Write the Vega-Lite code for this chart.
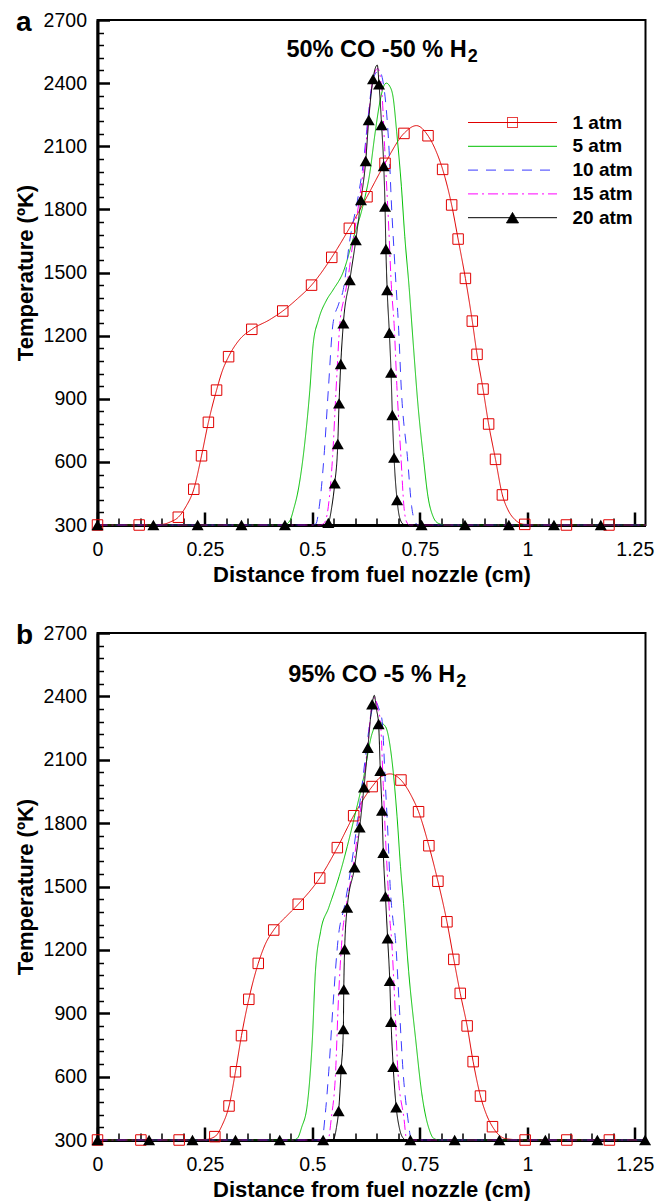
{
  "$schema": "https://vega.github.io/schema/vega-lite/v6.json",
  "padding": {"left": 12.5, "top": 8, "right": 5, "bottom": 5},
  "spacing": 34,
  "config": {
    "font": "Liberation Sans",
    "view": {"stroke": "black", "strokeWidth": 2},
    "axis": {
      "grid": false, "domainColor": "black", "domainWidth": 3, "tickColor": "black",
      "labelFont": "Liberation Sans", "labelFontSize": 19.5, "labelColor": "black",
      "titleFont": "Liberation Sans", "titleFontSize": 22, "titleFontWeight": "bold", "titleColor": "black",
      "labelOverlap": false, "labelFlush": false
    },
    "title": {"font": "Liberation Sans", "fontSize": 28, "fontWeight": "bold", "color": "black"}
  },
  "resolve": {"scale": {"color": "independent", "strokeDash": "independent"}, "legend": {"color": "independent", "strokeDash": "independent"}},
  "datasets": {
    "lineA": [
      {"s":"1 atm","x":0,"t":300},{"s":"1 atm","x":0.097,"t":300},{"s":"1 atm","x":0.15,"t":303},{"s":"1 atm","x":0.17,"t":315},{"s":"1 atm","x":0.188,"t":337},{"s":"1 atm","x":0.205,"t":385},{"s":"1 atm","x":0.224,"t":470},{"s":"1 atm","x":0.242,"t":629},{"s":"1 atm","x":0.258,"t":788},{"s":"1 atm","x":0.277,"t":941},{"s":"1 atm","x":0.29,"t":1030},{"s":"1 atm","x":0.305,"t":1100},{"s":"1 atm","x":0.33,"t":1180},{"s":"1 atm","x":0.359,"t":1230},{"s":"1 atm","x":0.4,"t":1275},{"s":"1 atm","x":0.431,"t":1317},{"s":"1 atm","x":0.465,"t":1375},{"s":"1 atm","x":0.498,"t":1440},{"s":"1 atm","x":0.545,"t":1572},{"s":"1 atm","x":0.586,"t":1710},{"s":"1 atm","x":0.627,"t":1860},{"s":"1 atm","x":0.669,"t":2019},{"s":"1 atm","x":0.713,"t":2161},{"s":"1 atm","x":0.742,"t":2198},{"s":"1 atm","x":0.769,"t":2150},{"s":"1 atm","x":0.787,"t":2080},{"s":"1 atm","x":0.803,"t":1990},{"s":"1 atm","x":0.824,"t":1821},{"s":"1 atm","x":0.839,"t":1659},{"s":"1 atm","x":0.856,"t":1472},{"s":"1 atm","x":0.872,"t":1269},{"s":"1 atm","x":0.883,"t":1111},{"s":"1 atm","x":0.897,"t":946},{"s":"1 atm","x":0.91,"t":780},{"s":"1 atm","x":0.926,"t":612},{"s":"1 atm","x":0.942,"t":443},{"s":"1 atm","x":0.955,"t":372},{"s":"1 atm","x":0.97,"t":328},{"s":"1 atm","x":0.994,"t":303},{"s":"1 atm","x":1.091,"t":300},{"s":"1 atm","x":1.19,"t":300},{"s":"1 atm","x":1.275,"t":300},
      {"s":"5 atm","x":0,"t":300},{"s":"5 atm","x":0.435,"t":300},{"s":"5 atm","x":0.448,"t":322},{"s":"5 atm","x":0.457,"t":380},{"s":"5 atm","x":0.467,"t":466},{"s":"5 atm","x":0.483,"t":704},{"s":"5 atm","x":0.494,"t":941},{"s":"5 atm","x":0.502,"t":1163},{"s":"5 atm","x":0.514,"t":1274},{"s":"5 atm","x":0.533,"t":1369},{"s":"5 atm","x":0.548,"t":1417},{"s":"5 atm","x":0.572,"t":1504},{"s":"5 atm","x":0.595,"t":1662},{"s":"5 atm","x":0.618,"t":1821},{"s":"5 atm","x":0.634,"t":1979},{"s":"5 atm","x":0.645,"t":2150},{"s":"5 atm","x":0.657,"t":2310},{"s":"5 atm","x":0.665,"t":2380},{"s":"5 atm","x":0.672,"t":2400},{"s":"5 atm","x":0.68,"t":2385},{"s":"5 atm","x":0.688,"t":2330},{"s":"5 atm","x":0.696,"t":2170},{"s":"5 atm","x":0.707,"t":1910},{"s":"5 atm","x":0.715,"t":1670},{"s":"5 atm","x":0.725,"t":1430},{"s":"5 atm","x":0.734,"t":1179},{"s":"5 atm","x":0.746,"t":862},{"s":"5 atm","x":0.758,"t":625},{"s":"5 atm","x":0.769,"t":434},{"s":"5 atm","x":0.781,"t":339},{"s":"5 atm","x":0.793,"t":308},{"s":"5 atm","x":0.81,"t":300},{"s":"5 atm","x":1.275,"t":300},
      {"s":"10 atm","x":0,"t":300},{"s":"10 atm","x":0.5,"t":300},{"s":"10 atm","x":0.508,"t":305},{"s":"10 atm","x":0.516,"t":387},{"s":"10 atm","x":0.527,"t":625},{"s":"10 atm","x":0.537,"t":941},{"s":"10 atm","x":0.548,"t":1258},{"s":"10 atm","x":0.561,"t":1350},{"s":"10 atm","x":0.572,"t":1420},{"s":"10 atm","x":0.587,"t":1654},{"s":"10 atm","x":0.605,"t":1844},{"s":"10 atm","x":0.619,"t":2030},{"s":"10 atm","x":0.629,"t":2225},{"s":"10 atm","x":0.641,"t":2419},{"s":"10 atm","x":0.655,"t":2460},{"s":"10 atm","x":0.664,"t":2410},{"s":"10 atm","x":0.671,"t":2296},{"s":"10 atm","x":0.679,"t":2058},{"s":"10 atm","x":0.684,"t":1821},{"s":"10 atm","x":0.69,"t":1600},{"s":"10 atm","x":0.695,"t":1426},{"s":"10 atm","x":0.7,"t":1258},{"s":"10 atm","x":0.707,"t":941},{"s":"10 atm","x":0.721,"t":625},{"s":"10 atm","x":0.731,"t":387},{"s":"10 atm","x":0.738,"t":318},{"s":"10 atm","x":0.746,"t":300},{"s":"10 atm","x":1.275,"t":300},
      {"s":"15 atm","x":0,"t":300},{"s":"15 atm","x":0.518,"t":300},{"s":"15 atm","x":0.527,"t":308},{"s":"15 atm","x":0.537,"t":387},{"s":"15 atm","x":0.547,"t":625},{"s":"15 atm","x":0.555,"t":941},{"s":"15 atm","x":0.564,"t":1258},{"s":"15 atm","x":0.574,"t":1380},{"s":"15 atm","x":0.582,"t":1464},{"s":"15 atm","x":0.595,"t":1654},{"s":"15 atm","x":0.609,"t":1844},{"s":"15 atm","x":0.621,"t":2030},{"s":"15 atm","x":0.63,"t":2225},{"s":"15 atm","x":0.641,"t":2419},{"s":"15 atm","x":0.652,"t":2470},{"s":"15 atm","x":0.661,"t":2375},{"s":"15 atm","x":0.669,"t":2058},{"s":"15 atm","x":0.677,"t":1741},{"s":"15 atm","x":0.684,"t":1425},{"s":"15 atm","x":0.69,"t":1258},{"s":"15 atm","x":0.697,"t":941},{"s":"15 atm","x":0.706,"t":625},{"s":"15 atm","x":0.713,"t":387},{"s":"15 atm","x":0.719,"t":315},{"s":"15 atm","x":0.726,"t":300},{"s":"15 atm","x":1.275,"t":300},
      {"s":"20 atm","x":0,"t":300},{"s":"20 atm","x":0.528,"t":300},{"s":"20 atm","x":0.537,"t":310},{"s":"20 atm","x":0.545,"t":385},{"s":"20 atm","x":0.552,"t":498},{"s":"20 atm","x":0.559,"t":685},{"s":"20 atm","x":0.562,"t":878},{"s":"20 atm","x":0.566,"t":1065},{"s":"20 atm","x":0.572,"t":1258},{"s":"20 atm","x":0.587,"t":1464},{"s":"20 atm","x":0.601,"t":1654},{"s":"20 atm","x":0.613,"t":1844},{"s":"20 atm","x":0.624,"t":2030},{"s":"20 atm","x":0.631,"t":2225},{"s":"20 atm","x":0.641,"t":2419},{"s":"20 atm","x":0.651,"t":2486},{"s":"20 atm","x":0.655,"t":2394},{"s":"20 atm","x":0.661,"t":2201},{"s":"20 atm","x":0.666,"t":2006},{"s":"20 atm","x":0.669,"t":1813},{"s":"20 atm","x":0.671,"t":1612},{"s":"20 atm","x":0.674,"t":1417},{"s":"20 atm","x":0.679,"t":1214},{"s":"20 atm","x":0.683,"t":1024},{"s":"20 atm","x":0.686,"t":823},{"s":"20 atm","x":0.69,"t":620},{"s":"20 atm","x":0.697,"t":419},{"s":"20 atm","x":0.703,"t":335},{"s":"20 atm","x":0.712,"t":303},{"s":"20 atm","x":0.72,"t":300},{"s":"20 atm","x":1.275,"t":300}
    ],
    "markA": [
      {"s":"1 atm","x":0,"t":300},{"s":"1 atm","x":0.097,"t":300},{"s":"1 atm","x":0.188,"t":337},{"s":"1 atm","x":0.224,"t":470},{"s":"1 atm","x":0.242,"t":629},{"s":"1 atm","x":0.258,"t":788},{"s":"1 atm","x":0.277,"t":941},{"s":"1 atm","x":0.305,"t":1100},{"s":"1 atm","x":0.359,"t":1230},{"s":"1 atm","x":0.431,"t":1317},{"s":"1 atm","x":0.498,"t":1440},{"s":"1 atm","x":0.545,"t":1572},{"s":"1 atm","x":0.586,"t":1710},{"s":"1 atm","x":0.627,"t":1860},{"s":"1 atm","x":0.669,"t":2019},{"s":"1 atm","x":0.713,"t":2161},{"s":"1 atm","x":0.769,"t":2150},{"s":"1 atm","x":0.803,"t":1990},{"s":"1 atm","x":0.824,"t":1821},{"s":"1 atm","x":0.839,"t":1659},{"s":"1 atm","x":0.856,"t":1472},{"s":"1 atm","x":0.872,"t":1269},{"s":"1 atm","x":0.883,"t":1111},{"s":"1 atm","x":0.897,"t":946},{"s":"1 atm","x":0.91,"t":780},{"s":"1 atm","x":0.926,"t":612},{"s":"1 atm","x":0.942,"t":443},{"s":"1 atm","x":0.994,"t":303},{"s":"1 atm","x":1.091,"t":300},{"s":"1 atm","x":1.19,"t":300},
      {"s":"20 atm","x":0,"t":300},{"s":"20 atm","x":0.13,"t":300},{"s":"20 atm","x":0.233,"t":300},{"s":"20 atm","x":0.335,"t":300},{"s":"20 atm","x":0.436,"t":300},{"s":"20 atm","x":0.537,"t":310},{"s":"20 atm","x":0.552,"t":498},{"s":"20 atm","x":0.559,"t":685},{"s":"20 atm","x":0.562,"t":878},{"s":"20 atm","x":0.566,"t":1065},{"s":"20 atm","x":0.572,"t":1258},{"s":"20 atm","x":0.587,"t":1464},{"s":"20 atm","x":0.601,"t":1654},{"s":"20 atm","x":0.613,"t":1844},{"s":"20 atm","x":0.624,"t":2030},{"s":"20 atm","x":0.631,"t":2225},{"s":"20 atm","x":0.641,"t":2419},{"s":"20 atm","x":0.655,"t":2394},{"s":"20 atm","x":0.661,"t":2201},{"s":"20 atm","x":0.666,"t":2006},{"s":"20 atm","x":0.669,"t":1813},{"s":"20 atm","x":0.671,"t":1612},{"s":"20 atm","x":0.674,"t":1417},{"s":"20 atm","x":0.679,"t":1214},{"s":"20 atm","x":0.683,"t":1024},{"s":"20 atm","x":0.686,"t":823},{"s":"20 atm","x":0.69,"t":620},{"s":"20 atm","x":0.697,"t":419},{"s":"20 atm","x":0.754,"t":300},{"s":"20 atm","x":0.855,"t":300},{"s":"20 atm","x":0.957,"t":300},{"s":"20 atm","x":1.062,"t":300},{"s":"20 atm","x":1.171,"t":300}
    ],
    "lineB": [
      {"s":"1 atm","x":0,"t":300},{"s":"1 atm","x":0.101,"t":300},{"s":"1 atm","x":0.19,"t":300},{"s":"1 atm","x":0.25,"t":302},{"s":"1 atm","x":0.273,"t":316},{"s":"1 atm","x":0.29,"t":370},{"s":"1 atm","x":0.306,"t":461},{"s":"1 atm","x":0.321,"t":623},{"s":"1 atm","x":0.335,"t":794},{"s":"1 atm","x":0.352,"t":966},{"s":"1 atm","x":0.374,"t":1136},{"s":"1 atm","x":0.39,"t":1225},{"s":"1 atm","x":0.41,"t":1294},{"s":"1 atm","x":0.44,"t":1360},{"s":"1 atm","x":0.467,"t":1416},{"s":"1 atm","x":0.517,"t":1540},{"s":"1 atm","x":0.558,"t":1684},{"s":"1 atm","x":0.596,"t":1835},{"s":"1 atm","x":0.639,"t":1973},{"s":"1 atm","x":0.66,"t":2020},{"s":"1 atm","x":0.681,"t":2033},{"s":"1 atm","x":0.706,"t":2004},{"s":"1 atm","x":0.73,"t":1930},{"s":"1 atm","x":0.747,"t":1854},{"s":"1 atm","x":0.771,"t":1693},{"s":"1 atm","x":0.792,"t":1525},{"s":"1 atm","x":0.813,"t":1333},{"s":"1 atm","x":0.829,"t":1155},{"s":"1 atm","x":0.844,"t":994},{"s":"1 atm","x":0.86,"t":840},{"s":"1 atm","x":0.874,"t":671},{"s":"1 atm","x":0.891,"t":508},{"s":"1 atm","x":0.905,"t":420},{"s":"1 atm","x":0.919,"t":363},{"s":"1 atm","x":0.935,"t":322},{"s":"1 atm","x":0.95,"t":306},{"s":"1 atm","x":0.995,"t":300},{"s":"1 atm","x":1.092,"t":300},{"s":"1 atm","x":1.191,"t":300},{"s":"1 atm","x":1.275,"t":300},
      {"s":"5 atm","x":0,"t":300},{"s":"5 atm","x":0.455,"t":300},{"s":"5 atm","x":0.465,"t":308},{"s":"5 atm","x":0.475,"t":360},{"s":"5 atm","x":0.488,"t":466},{"s":"5 atm","x":0.5,"t":781},{"s":"5 atm","x":0.507,"t":1097},{"s":"5 atm","x":0.519,"t":1286},{"s":"5 atm","x":0.538,"t":1400},{"s":"5 atm","x":0.562,"t":1547},{"s":"5 atm","x":0.581,"t":1689},{"s":"5 atm","x":0.6,"t":1847},{"s":"5 atm","x":0.618,"t":2004},{"s":"5 atm","x":0.639,"t":2225},{"s":"5 atm","x":0.65,"t":2270},{"s":"5 atm","x":0.658,"t":2275},{"s":"5 atm","x":0.67,"t":2257},{"s":"5 atm","x":0.685,"t":2099},{"s":"5 atm","x":0.697,"t":1830},{"s":"5 atm","x":0.705,"t":1594},{"s":"5 atm","x":0.712,"t":1420},{"s":"5 atm","x":0.724,"t":1097},{"s":"5 atm","x":0.74,"t":781},{"s":"5 atm","x":0.755,"t":513},{"s":"5 atm","x":0.765,"t":400},{"s":"5 atm","x":0.771,"t":355},{"s":"5 atm","x":0.782,"t":308},{"s":"5 atm","x":0.795,"t":300},{"s":"5 atm","x":1.275,"t":300},
      {"s":"10 atm","x":0,"t":300},{"s":"10 atm","x":0.515,"t":300},{"s":"10 atm","x":0.523,"t":305},{"s":"10 atm","x":0.529,"t":403},{"s":"10 atm","x":0.538,"t":623},{"s":"10 atm","x":0.548,"t":939},{"s":"10 atm","x":0.56,"t":1255},{"s":"10 atm","x":0.575,"t":1411},{"s":"10 atm","x":0.589,"t":1578},{"s":"10 atm","x":0.603,"t":1780},{"s":"10 atm","x":0.615,"t":1970},{"s":"10 atm","x":0.626,"t":2157},{"s":"10 atm","x":0.638,"t":2330},{"s":"10 atm","x":0.647,"t":2375},{"s":"10 atm","x":0.655,"t":2340},{"s":"10 atm","x":0.662,"t":2288},{"s":"10 atm","x":0.67,"t":1973},{"s":"10 atm","x":0.676,"t":1736},{"s":"10 atm","x":0.681,"t":1499},{"s":"10 atm","x":0.687,"t":1350},{"s":"10 atm","x":0.693,"t":1255},{"s":"10 atm","x":0.702,"t":939},{"s":"10 atm","x":0.711,"t":623},{"s":"10 atm","x":0.722,"t":403},{"s":"10 atm","x":0.73,"t":305},{"s":"10 atm","x":0.738,"t":300},{"s":"10 atm","x":1.275,"t":300},
      {"s":"15 atm","x":0,"t":300},{"s":"15 atm","x":0.53,"t":300},{"s":"15 atm","x":0.537,"t":305},{"s":"15 atm","x":0.544,"t":403},{"s":"15 atm","x":0.554,"t":623},{"s":"15 atm","x":0.56,"t":939},{"s":"15 atm","x":0.569,"t":1255},{"s":"15 atm","x":0.579,"t":1411},{"s":"15 atm","x":0.594,"t":1585},{"s":"15 atm","x":0.607,"t":1780},{"s":"15 atm","x":0.618,"t":1970},{"s":"15 atm","x":0.628,"t":2157},{"s":"15 atm","x":0.638,"t":2350},{"s":"15 atm","x":0.646,"t":2395},{"s":"15 atm","x":0.652,"t":2340},{"s":"15 atm","x":0.658,"t":2288},{"s":"15 atm","x":0.665,"t":1973},{"s":"15 atm","x":0.67,"t":1736},{"s":"15 atm","x":0.676,"t":1499},{"s":"15 atm","x":0.68,"t":1350},{"s":"15 atm","x":0.684,"t":1255},{"s":"15 atm","x":0.692,"t":939},{"s":"15 atm","x":0.699,"t":623},{"s":"15 atm","x":0.713,"t":403},{"s":"15 atm","x":0.719,"t":305},{"s":"15 atm","x":0.726,"t":300},{"s":"15 atm","x":1.275,"t":300},
      {"s":"20 atm","x":0,"t":300},{"s":"20 atm","x":0.545,"t":300},{"s":"20 atm","x":0.551,"t":312},{"s":"20 atm","x":0.556,"t":360},{"s":"20 atm","x":0.561,"t":437},{"s":"20 atm","x":0.567,"t":636},{"s":"20 atm","x":0.572,"t":825},{"s":"20 atm","x":0.573,"t":1013},{"s":"20 atm","x":0.575,"t":1203},{"s":"20 atm","x":0.581,"t":1400},{"s":"20 atm","x":0.598,"t":1591},{"s":"20 atm","x":0.61,"t":1780},{"s":"20 atm","x":0.62,"t":1970},{"s":"20 atm","x":0.629,"t":2157},{"s":"20 atm","x":0.639,"t":2363},{"s":"20 atm","x":0.644,"t":2405},{"s":"20 atm","x":0.649,"t":2340},{"s":"20 atm","x":0.654,"t":2269},{"s":"20 atm","x":0.658,"t":2048},{"s":"20 atm","x":0.662,"t":1859},{"s":"20 atm","x":0.665,"t":1660},{"s":"20 atm","x":0.67,"t":1453},{"s":"20 atm","x":0.675,"t":1255},{"s":"20 atm","x":0.68,"t":1053},{"s":"20 atm","x":0.683,"t":860},{"s":"20 atm","x":0.688,"t":647},{"s":"20 atm","x":0.695,"t":455},{"s":"20 atm","x":0.702,"t":360},{"s":"20 atm","x":0.71,"t":312},{"s":"20 atm","x":0.718,"t":300},{"s":"20 atm","x":1.275,"t":300}
    ],
    "markB": [
      {"s":"1 atm","x":0,"t":300},{"s":"1 atm","x":0.101,"t":300},{"s":"1 atm","x":0.19,"t":300},{"s":"1 atm","x":0.273,"t":316},{"s":"1 atm","x":0.306,"t":461},{"s":"1 atm","x":0.321,"t":623},{"s":"1 atm","x":0.335,"t":794},{"s":"1 atm","x":0.352,"t":966},{"s":"1 atm","x":0.374,"t":1136},{"s":"1 atm","x":0.41,"t":1294},{"s":"1 atm","x":0.467,"t":1416},{"s":"1 atm","x":0.517,"t":1540},{"s":"1 atm","x":0.558,"t":1684},{"s":"1 atm","x":0.596,"t":1835},{"s":"1 atm","x":0.639,"t":1973},{"s":"1 atm","x":0.706,"t":2004},{"s":"1 atm","x":0.747,"t":1854},{"s":"1 atm","x":0.771,"t":1693},{"s":"1 atm","x":0.792,"t":1525},{"s":"1 atm","x":0.813,"t":1333},{"s":"1 atm","x":0.829,"t":1155},{"s":"1 atm","x":0.844,"t":994},{"s":"1 atm","x":0.86,"t":840},{"s":"1 atm","x":0.874,"t":671},{"s":"1 atm","x":0.891,"t":508},{"s":"1 atm","x":0.919,"t":363},{"s":"1 atm","x":0.995,"t":300},{"s":"1 atm","x":1.092,"t":300},{"s":"1 atm","x":1.191,"t":300},
      {"s":"20 atm","x":0,"t":300},{"s":"20 atm","x":0.12,"t":300},{"s":"20 atm","x":0.221,"t":300},{"s":"20 atm","x":0.321,"t":300},{"s":"20 atm","x":0.424,"t":300},{"s":"20 atm","x":0.525,"t":300},{"s":"20 atm","x":0.561,"t":437},{"s":"20 atm","x":0.567,"t":636},{"s":"20 atm","x":0.572,"t":825},{"s":"20 atm","x":0.573,"t":1013},{"s":"20 atm","x":0.575,"t":1203},{"s":"20 atm","x":0.581,"t":1400},{"s":"20 atm","x":0.598,"t":1591},{"s":"20 atm","x":0.61,"t":1780},{"s":"20 atm","x":0.62,"t":1970},{"s":"20 atm","x":0.629,"t":2157},{"s":"20 atm","x":0.639,"t":2363},{"s":"20 atm","x":0.654,"t":2269},{"s":"20 atm","x":0.658,"t":2048},{"s":"20 atm","x":0.662,"t":1859},{"s":"20 atm","x":0.665,"t":1660},{"s":"20 atm","x":0.67,"t":1453},{"s":"20 atm","x":0.675,"t":1255},{"s":"20 atm","x":0.68,"t":1053},{"s":"20 atm","x":0.683,"t":860},{"s":"20 atm","x":0.688,"t":647},{"s":"20 atm","x":0.695,"t":455},{"s":"20 atm","x":0.728,"t":300},{"s":"20 atm","x":0.831,"t":300},{"s":"20 atm","x":0.935,"t":300},{"s":"20 atm","x":1.042,"t":300},{"s":"20 atm","x":1.163,"t":300},{"s":"20 atm","x":1.274,"t":300}
    ],
    "noteA": [{"label": "50% CO -50 % H", "sub": "2", "x": 0.859, "t": 2525}],
    "noteB": [{"label": "95% CO -5 % H", "sub": "2", "x": 0.8325, "t": 2470}]
  },
  "vconcat": [
    {
      "title": {"text": "a", "anchor": "start", "frame": "bounds", "offset": -27, "dx": 2},
      "width": 548, "height": 505,
      "layer": [
        {
          "data": {"name": "lineA"},
          "mark": {"type": "line", "strokeWidth": 1, "interpolate": "monotone"},
          "encoding": {
            "x": {"field": "x", "type": "quantitative", "scale": {"domain": [0, 1.275], "nice": false, "zero": false},
              "axis": {"title": "Distance from fuel nozzle (cm)", "tickCount": 100, "values": [0,0.05,0.1,0.15,0.2,0.25,0.3,0.35,0.4,0.45,0.5,0.55,0.6,0.65,0.7,0.75,0.8,0.85,0.9,0.95,1,1.05,1.1,1.15,1.2,1.25],
                "labelExpr": "abs(datum.value*4 - round(datum.value*4)) < 0.001 ? format(datum.value, '~g') : ''",
                "labelOverlap": false, "labelFlush": false,
                "tickSize": {"condition": {"test": "abs(datum.value*4 - round(datum.value*4)) < 0.001", "value": -13}, "value": -7},
                "tickWidth": {"condition": {"test": "abs(datum.value*4 - round(datum.value*4)) < 0.001", "value": 2.5}, "value": 1.5},
                "labelPadding": 28, "titlePadding": 0}},
            "y": {"field": "t", "type": "quantitative", "scale": {"domain": [300, 2700], "nice": false, "zero": false},
              "axis": {"title": "Temperature (ºK)", "format": "d", "tickCount": 100, "values": [300,360,420,480,540,600,660,720,780,840,900,960,1020,1080,1140,1200,1260,1320,1380,1440,1500,1560,1620,1680,1740,1800,1860,1920,1980,2040,2100,2160,2220,2280,2340,2400,2460,2520,2580,2640,2700],
                "labelExpr": "datum.value % 300 == 0 ? datum.label : ''",
                "labelOverlap": false, "labelFlush": false,
                "tickSize": {"condition": {"test": "datum.value % 300 == 0", "value": -12}, "value": -6},
                "tickWidth": {"condition": {"test": "datum.value % 300 == 0", "value": 2.5}, "value": 1.5},
                "labelPadding": 23, "titlePadding": 6}},
            "color": {"field": "s", "type": "nominal",
              "scale": {"domain": ["1 atm", "5 atm", "10 atm", "15 atm", "20 atm"], "range": ["#e00000", "#00c000", "#3a3aff", "#ff00ff", "#000000"]},
              "legend": {"orient": "none", "legendX": 369, "legendY": 93, "title": null, "padding": 0, "rowPadding": 3.8,
                "labelFontSize": 19, "labelFontWeight": "bold", "labelFont": "Liberation Sans", "labelColor": "black",
                "labelOffset": 50.5, "symbolOffset": 36.5, "symbolSize": 100, "symbolStrokeWidth": 1,
                "encode": {"symbols": {"update": {
                  "shape": {"signal": "datum.value == '1 atm' ? 'M-8.9,0H8.9M-1,-1H1V1H-1Z' : datum.value == '20 atm' ? 'M-8.9,0H8.9M0,-1.04L-1.2,1.04L1.2,1.04Z' : 'M-8.9,0H8.9'"},
                  "fill": {"signal": "datum.value == '20 atm' ? 'black' : 'transparent'"},
                  "strokeDash": {"signal": "datum.value == '10 atm' ? [10,8] : datum.value == '15 atm' ? [10,4,2,4] : [1,0]"},
                  "opacity": {"value": 1}}}}}},
            "strokeDash": {"field": "s", "type": "nominal",
              "scale": {"domain": ["1 atm", "5 atm", "10 atm", "15 atm", "20 atm"], "range": [[1,0],[1,0],[10,8],[10,4,2,4],[1,0]]}, "legend": null}
          }
        },
        {
          "data": {"name": "markA"}, "transform": [{"filter": "datum.s == '1 atm'"}],
          "mark": {"type": "point", "shape": "square", "size": 110, "filled": false, "color": "#e00000", "strokeWidth": 1, "opacity": 1},
          "encoding": {"x": {"field": "x", "type": "quantitative"}, "y": {"field": "t", "type": "quantitative"}}
        },
        {
          "data": {"name": "markA"}, "transform": [{"filter": "datum.s == '20 atm'"}],
          "mark": {"type": "point", "shape": "triangle-up", "size": 144, "filled": true, "color": "black", "opacity": 1},
          "encoding": {"x": {"field": "x", "type": "quantitative"}, "y": {"field": "t", "type": "quantitative"}}
        },
        {
          "data": {"name": "noteA"},
          "mark": {"type": "text", "align": "right", "baseline": "alphabetic", "fontSize": 23.5, "fontWeight": "bold", "color": "black"},
          "encoding": {"x": {"field": "x", "type": "quantitative"}, "y": {"field": "t", "type": "quantitative"}, "text": {"field": "label"}}
        },
        {
          "data": {"name": "noteA"},
          "mark": {"type": "text", "align": "left", "baseline": "alphabetic", "fontSize": 18, "fontWeight": "bold", "color": "black", "dx": 1, "dy": 5},
          "encoding": {"x": {"field": "x", "type": "quantitative"}, "y": {"field": "t", "type": "quantitative"}, "text": {"field": "sub"}}
        }
      ]
    },
    {
      "title": {"text": "b", "anchor": "start", "frame": "bounds", "offset": -27, "dx": 2},
      "width": 548, "height": 507,
      "layer": [
        {
          "data": {"name": "lineB"},
          "mark": {"type": "line", "strokeWidth": 1, "interpolate": "monotone"},
          "encoding": {
            "x": {"field": "x", "type": "quantitative", "scale": {"domain": [0, 1.275], "nice": false, "zero": false},
              "axis": {"title": "Distance from fuel nozzle (cm)", "tickCount": 100, "values": [0,0.05,0.1,0.15,0.2,0.25,0.3,0.35,0.4,0.45,0.5,0.55,0.6,0.65,0.7,0.75,0.8,0.85,0.9,0.95,1,1.05,1.1,1.15,1.2,1.25],
                "labelExpr": "abs(datum.value*4 - round(datum.value*4)) < 0.001 ? format(datum.value, '~g') : ''",
                "labelOverlap": false, "labelFlush": false,
                "tickSize": {"condition": {"test": "abs(datum.value*4 - round(datum.value*4)) < 0.001", "value": -13}, "value": -7},
                "tickWidth": {"condition": {"test": "abs(datum.value*4 - round(datum.value*4)) < 0.001", "value": 2.5}, "value": 1.5},
                "labelPadding": 28, "titlePadding": 0}},
            "y": {"field": "t", "type": "quantitative", "scale": {"domain": [300, 2700], "nice": false, "zero": false},
              "axis": {"title": "Temperature (ºK)", "format": "d", "tickCount": 100, "values": [300,360,420,480,540,600,660,720,780,840,900,960,1020,1080,1140,1200,1260,1320,1380,1440,1500,1560,1620,1680,1740,1800,1860,1920,1980,2040,2100,2160,2220,2280,2340,2400,2460,2520,2580,2640,2700],
                "labelExpr": "datum.value % 300 == 0 ? datum.label : ''",
                "labelOverlap": false, "labelFlush": false,
                "tickSize": {"condition": {"test": "datum.value % 300 == 0", "value": -12}, "value": -6},
                "tickWidth": {"condition": {"test": "datum.value % 300 == 0", "value": 2.5}, "value": 1.5},
                "labelPadding": 23, "titlePadding": 6}},
            "color": {"field": "s", "type": "nominal",
              "scale": {"domain": ["1 atm", "5 atm", "10 atm", "15 atm", "20 atm"], "range": ["#e00000", "#00c000", "#3a3aff", "#ff00ff", "#000000"]}, "legend": null},
            "strokeDash": {"field": "s", "type": "nominal",
              "scale": {"domain": ["1 atm", "5 atm", "10 atm", "15 atm", "20 atm"], "range": [[1,0],[1,0],[10,8],[10,4,2,4],[1,0]]}, "legend": null}
          }
        },
        {
          "data": {"name": "markB"}, "transform": [{"filter": "datum.s == '1 atm'"}],
          "mark": {"type": "point", "shape": "square", "size": 110, "filled": false, "color": "#e00000", "strokeWidth": 1, "opacity": 1},
          "encoding": {"x": {"field": "x", "type": "quantitative"}, "y": {"field": "t", "type": "quantitative"}}
        },
        {
          "data": {"name": "markB"}, "transform": [{"filter": "datum.s == '20 atm'"}],
          "mark": {"type": "point", "shape": "triangle-up", "size": 144, "filled": true, "color": "black", "opacity": 1},
          "encoding": {"x": {"field": "x", "type": "quantitative"}, "y": {"field": "t", "type": "quantitative"}}
        },
        {
          "data": {"name": "noteB"},
          "mark": {"type": "text", "align": "right", "baseline": "alphabetic", "fontSize": 23.5, "fontWeight": "bold", "color": "black"},
          "encoding": {"x": {"field": "x", "type": "quantitative"}, "y": {"field": "t", "type": "quantitative"}, "text": {"field": "label"}}
        },
        {
          "data": {"name": "noteB"},
          "mark": {"type": "text", "align": "left", "baseline": "alphabetic", "fontSize": 18, "fontWeight": "bold", "color": "black", "dx": 1, "dy": 5},
          "encoding": {"x": {"field": "x", "type": "quantitative"}, "y": {"field": "t", "type": "quantitative"}, "text": {"field": "sub"}}
        }
      ]
    }
  ]
}
